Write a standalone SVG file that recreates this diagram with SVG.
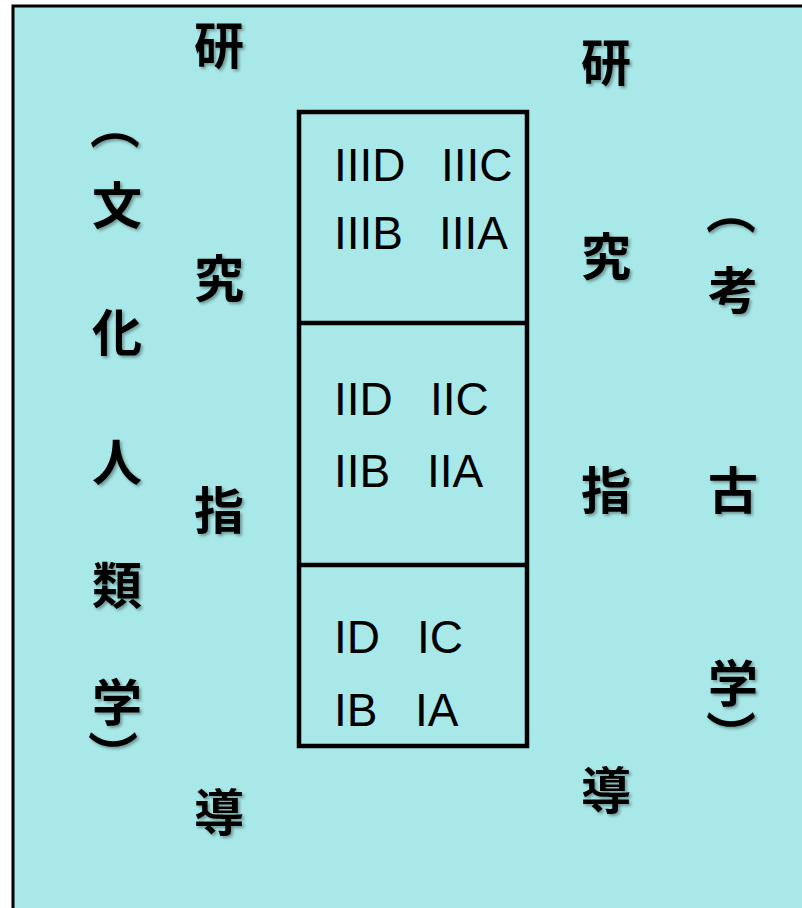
<svg xmlns="http://www.w3.org/2000/svg" width="802" height="908" viewBox="0 0 802 908">
<defs>
<filter id="sh" x="-20%" y="-20%" width="150%" height="150%">
<feDropShadow dx="2" dy="2" stdDeviation="1.5" flood-color="#000" flood-opacity="0.35"/>
</filter>
<style>
.k{font-family:"Noto Sans CJK JP","Noto Sans CJK SC",sans-serif;font-weight:bold;font-size:50px;fill:#000;text-anchor:middle;filter:url(#sh)}
.p{font-family:"Noto Sans CJK JP","Noto Sans CJK SC",sans-serif;font-weight:bold;font-size:50px;fill:#000}
.r{font-family:"Liberation Sans",Arial,sans-serif;font-size:46px;fill:#000}
.ln{fill:none;stroke:#000;stroke-width:4.5}
</style>
</defs>
<rect x="0" y="0" width="802" height="908" fill="#fff"/>
<g id="frame">
<rect x="13" y="6" width="800" height="912" fill="#a8e8e8" stroke="#000" stroke-width="3"/>
</g>
<g id="column">
<rect class="ln" x="299" y="112" width="228" height="634"/>
<line class="ln" x1="299" y1="323" x2="527" y2="323"/>
<line class="ln" x1="299" y1="565" x2="527" y2="565"/>
</g>
<g id="level3">
<text class="r" x="334" y="181">IIID</text>
<text class="r" x="441" y="181">IIIC</text>
<text class="r" x="334" y="249">IIIB</text>
<text class="r" x="439" y="249">IIIA</text>
</g>
<g id="level2">
<text class="r" x="334" y="415">IID</text>
<text class="r" x="430" y="415">IIC</text>
<text class="r" x="334" y="487">IIB</text>
<text class="r" x="427" y="487">IIA</text>
</g>
<g id="level1">
<text class="r" x="334" y="653">ID</text>
<text class="r" x="417" y="653">IC</text>
<text class="r" x="334" y="726">IB</text>
<text class="r" x="415" y="726">IA</text>
</g>
<g id="left-guidance">
<text class="k" x="219" y="64">研</text>
<text class="k" x="219" y="297">究</text>
<text class="k" x="219" y="529">指</text>
<text class="k" x="219" y="831">導</text>
</g>
<g id="right-guidance">
<text class="k" x="606" y="81">研</text>
<text class="k" x="606" y="275">究</text>
<text class="k" x="606" y="509">指</text>
<text class="k" x="606" y="809">導</text>
</g>
<g id="cultural-anthropology">
<g filter="url(#sh)"><text class="p" transform="translate(118,125) rotate(90)" text-anchor="middle" dominant-baseline="central">（</text></g>
<text class="k" x="117" y="224">文</text>
<text class="k" x="117" y="351">化</text>
<text class="k" x="117" y="481">人</text>
<text class="k" x="117" y="604">類</text>
<text class="k" x="117" y="721">学</text>
<g filter="url(#sh)"><text class="p" transform="translate(116,755) rotate(90)" text-anchor="middle" dominant-baseline="central">）</text></g>
</g>
<g id="archaeology">
<g filter="url(#sh)"><text class="p" transform="translate(734,210) rotate(90)" text-anchor="middle" dominant-baseline="central">（</text></g>
<text class="k" x="733" y="309">考</text>
<text class="k" x="733" y="509">古</text>
<text class="k" x="733" y="702">学</text>
<g filter="url(#sh)"><text class="p" transform="translate(734,735) rotate(90)" text-anchor="middle" dominant-baseline="central">）</text></g>
</g>
</svg>
